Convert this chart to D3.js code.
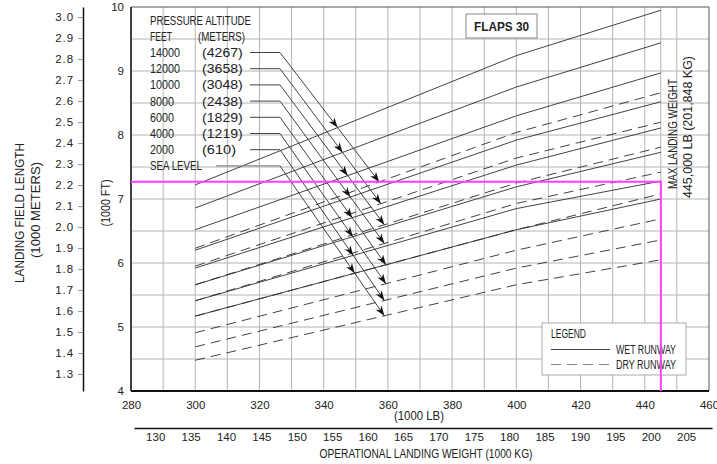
<!DOCTYPE html>
<html>
<head>
<meta charset="utf-8">
<script src="https://cdn.jsdelivr.net/npm/d3@7"></script>
<style>
  html, body { margin: 0; padding: 0; background: #fff; }
  svg { display: block; }
  text { font-family: "Liberation Sans", Arial, sans-serif; fill: #222; }
</style>
</head>
<body>
<svg id="chart" width="717" height="464"></svg>
<script>
// Landing weight (1000 LB) at which each curve is defined
const weights = [300, 400, 445];

// Pressure altitudes, top curve first
const altFeet   = ["14000", "12000", "10000", "8000", "6000", "4000", "2000", "SEA LEVEL"];
const altMeters = ["(4267)", "(3658)", "(3048)", "(2438)", "(1829)", "(1219)", "(610)", ""];

// Landing field length (1000 FT), wet runway, one row per altitude
const wetRunway = [
  [7.22, 9.24, 9.95],
  [6.86, 8.75, 9.44],
  [6.52, 8.30, 8.97],
  [6.20, 7.92, 8.52],
  [5.92, 7.53, 8.11],
  [5.66, 7.19, 7.73],
  [5.41, 6.85, 7.28],
  [5.17, 6.52, 7.00]
];

// Landing field length (1000 FT), dry runway, one row per altitude
const dryRunway = [
  [6.23, 8.04, 8.66],
  [5.95, 7.64, 8.20],
  [5.66, 7.25, 7.81],
  [5.41, 6.93, 7.42],
  [5.17, 6.52, 7.08],
  [4.91, 6.20, 6.69],
  [4.69, 5.92, 6.36],
  [4.48, 5.66, 6.05]
];

// Weight (1000 LB) where each altitude leader meets its dry-runway curve
const leaderTarget = [357.3, 357.8, 358.9, 358.9, 359.4, 359.4, 358.9, 358.9];

// Axis ticks
const lbTicks = d3.range(280, 461, 20);
const kgTicks = d3.range(130, 206, 5);
const ftTicks = d3.range(4, 11, 1);
const meterTicks = d3.range(13, 31, 1).map(v => v / 10);
const gridX = d3.range(290, 451, 10).concat([445]);
const gridY = d3.range(4.5, 10, 0.5);

// Worked example: max landing weight and resulting field length
const maxWeight = 445;
const exampleLength = 7.27;

const FT_PER_M = 3.28084;
const LB_PER_KG = 2.20462;

const svg = d3.select("#chart");
const pL = 131, pR = 709, pT = 7, pB = 391;

const x = d3.scaleLinear().domain([280, 460]).range([pL, pR]);
const y = d3.scaleLinear().domain([4, 10]).range([pB, pT]);
const yM = d3.scaleLinear().domain([4 / FT_PER_M, 10 / FT_PER_M]).range([pB, pT]);
const xKg = d3.scaleLinear().domain([280 / LB_PER_KG, 460 / LB_PER_KG]).range([pL, pR]);

const ink = "#2e2e2e";
const gridCol = "#b4b4b4";
const magenta = "#ff3cff";

// Condensed caption text: fitted to a set width
function caption(g, txt, px, py, width, opts = {}) {
  const t = g.append("text")
    .attr("font-size", opts.size || 12)
    .attr("textLength", width)
    .attr("lengthAdjust", "spacingAndGlyphs")
    .text(txt);
  if (opts.rotate) {
    t.attr("transform", `translate(${px},${py}) rotate(-90)`);
  } else {
    t.attr("x", px).attr("y", py);
  }
  if (opts.anchor) t.attr("text-anchor", opts.anchor);
  if (opts.bold) t.attr("font-weight", "bold");
  return t;
}

// Grid
const grid = svg.append("g");
grid.selectAll("line.gx").data(gridX).join("line")
  .attr("x1", d => x(d)).attr("x2", d => x(d))
  .attr("y1", pT).attr("y2", pB)
  .attr("stroke", gridCol).attr("stroke-width", 1);
grid.selectAll("line.gy").data(gridY).join("line")
  .attr("x1", pL).attr("x2", pR)
  .attr("y1", d => y(d)).attr("y2", d => y(d))
  .attr("stroke", gridCol).attr("stroke-width", 1);

// Frame
svg.append("line").attr("x1", pL).attr("x2", pR).attr("y1", pT).attr("y2", pT)
  .attr("stroke", "#555").attr("stroke-width", 1);
svg.append("line").attr("x1", pR).attr("x2", pR).attr("y1", pT).attr("y2", pB)
  .attr("stroke", "#555").attr("stroke-width", 1);
svg.append("line").attr("x1", pL).attr("x2", pL).attr("y1", pT).attr("y2", pB)
  .attr("stroke", "#111").attr("stroke-width", 1.6);
svg.append("line").attr("x1", pL).attr("x2", pR).attr("y1", pB).attr("y2", pB)
  .attr("stroke", "#111").attr("stroke-width", 2);

// Curves
const line = d3.line().x((d, i) => x(weights[i])).y(d => y(d));
svg.append("g").selectAll("path").data(wetRunway).join("path")
  .attr("d", line).attr("fill", "none").attr("stroke", ink).attr("stroke-width", 0.9);
svg.append("g").selectAll("path").data(dryRunway).join("path")
  .attr("d", line).attr("fill", "none").attr("stroke", ink).attr("stroke-width", 0.9)
  .attr("stroke-dasharray", "10,6");

// Altitude key text
const key = svg.append("g");
caption(key, "PRESSURE ALTITUDE", 150, 24.5, 101);
caption(key, "FEET", 150, 40.5, 22);
caption(key, "(METERS)", 198, 40.5, 47);
const rowY = i => 52.5 + i * 16.2;
altFeet.forEach((lab, i) => {
  const w = lab === "SEA LEVEL" ? 52 : lab.length * 6;
  caption(key, lab, 150, rowY(i) + 4.5, w);
  if (altMeters[i]) caption(key, altMeters[i], 202, rowY(i) + 4.5, altMeters[i].length * 6.8);
});

// Leaders with arrowheads onto the wet and dry curves
function curvePx(row, px) {
  const w = x.invert(px);
  const k = w <= weights[1] ? 0 : 1;
  const t = (w - weights[k]) / (weights[k + 1] - weights[k]);
  return y(row[k] + t * (row[k + 1] - row[k]));
}
function arrowHead(g, tip, from) {
  const ang = Math.atan2(tip[1] - from[1], tip[0] - from[0]) * 180 / Math.PI;
  g.append("path")
    .attr("d", "M0,0 L-10,-3.6 L-7,0 L-10,3.6 Z")
    .attr("transform", `translate(${tip[0]},${tip[1]}) rotate(${ang})`)
    .attr("fill", "#111");
}
const leaders = svg.append("g");
const bendX = 280;
altFeet.forEach((lab, i) => {
  const last = i === altFeet.length - 1;
  const startX = last ? 216 : 250;
  const b = [bendX, rowY(i)];
  const tx = x(leaderTarget[i]);
  const a2 = [tx, curvePx(dryRunway[i], tx)];
  // where the leader crosses the wet-runway curve
  let lo = 0, hi = 1;
  for (let n = 0; n < 40; n++) {
    const m = (lo + hi) / 2;
    const px = b[0] + m * (a2[0] - b[0]);
    const py = b[1] + m * (a2[1] - b[1]);
    if (py < curvePx(wetRunway[i], px)) lo = m; else hi = m;
  }
  const a1 = [b[0] + lo * (a2[0] - b[0]), b[1] + lo * (a2[1] - b[1])];
  leaders.append("path")
    .attr("d", `M${startX},${b[1]} H${b[0]}`)
    .attr("fill", "none").attr("stroke", last ? "#888" : ink)
    .attr("stroke-width", last ? 1.4 : 0.9);
  leaders.append("path")
    .attr("d", `M${b[0]},${b[1]} L${a2[0]},${a2[1]}`)
    .attr("fill", "none").attr("stroke", ink).attr("stroke-width", 0.9);
  arrowHead(leaders, a1, b);
  arrowHead(leaders, a2, b);
});

// Flaps box
svg.append("rect").attr("x", 466).attr("y", 14).attr("width", 71).attr("height", 24)
  .attr("fill", "#fff").attr("stroke", "#888").attr("stroke-width", 1);
caption(svg, "FLAPS 30", 501.5, 30.5, 55, { size: 13, bold: true, anchor: "middle" });

// Max landing weight note
caption(svg, "MAX LANDING WEIGHT", 677, 189, 110, { rotate: true });
caption(svg, "445,000 LB  (201,848 KG)", 692, 198, 142, { rotate: true });

// Legend
const lg = svg.append("g");
lg.append("rect").attr("x", 542).attr("y", 323).attr("width", 144).attr("height", 52)
  .attr("fill", "#fff").attr("stroke", "#aaa").attr("stroke-width", 1);
caption(lg, "LEGEND", 551, 337.5, 35);
lg.append("line").attr("x1", 551).attr("x2", 610).attr("y1", 349.5).attr("y2", 349.5)
  .attr("stroke", ink).attr("stroke-width", 0.9);
lg.append("line").attr("x1", 551).attr("x2", 610).attr("y1", 364.5).attr("y2", 364.5)
  .attr("stroke", "#777").attr("stroke-width", 0.9).attr("stroke-dasharray", "10,6");
caption(lg, "WET RUNWAY", 616, 354, 60);
caption(lg, "DRY RUNWAY", 616, 369, 60);

// Example path
svg.append("path")
  .attr("d", `M${pL},${y(exampleLength)} H${x(maxWeight)} V${pB}`)
  .attr("fill", "none").attr("stroke", magenta).attr("stroke-width", 2);

// Feet axis
const ftAxis = svg.append("g").attr("transform", `translate(${pL - 1},0)`)
  .call(d3.axisLeft(y).tickValues(ftTicks).tickSize(0).tickPadding(6).tickFormat(d3.format("d")));
ftAxis.select(".domain").remove();
ftAxis.selectAll("text").attr("font-size", 11.5).attr("font-family", null).attr("fill", "#222");

// Meters axis
const mAxis = svg.append("g").attr("transform", "translate(83,0)")
  .call(d3.axisLeft(yM).tickValues(meterTicks).tickSize(5).tickSizeOuter(0).tickPadding(4).tickFormat(d3.format(".1f")));
mAxis.select(".domain").attr("stroke", "#111").attr("stroke-width", 1.5);
mAxis.selectAll(".tick line").attr("stroke", "#999");
mAxis.selectAll("text").attr("font-size", 11.5).attr("font-family", null).attr("letter-spacing", 0.9).attr("fill", "#222");

// Pound axis
const lbAxis = svg.append("g").attr("transform", `translate(0,${pB})`)
  .call(d3.axisBottom(x).tickValues(lbTicks).tickSize(0).tickPadding(10).tickFormat(d3.format("d")));
lbAxis.select(".domain").remove();
lbAxis.selectAll("text").attr("font-size", 11.5).attr("font-family", null).attr("fill", "#222");
caption(svg, "(1000 LB)", 419, 419.5, 50, { anchor: "middle" });

// Kilogram axis
const kgAxis = svg.append("g").attr("transform", "translate(3,428)")
  .call(d3.axisBottom(xKg).tickValues(kgTicks).tickSize(0).tickPadding(5).tickFormat(d3.format("d")));
kgAxis.select(".domain").attr("stroke", "#111").attr("stroke-width", 1.5);
kgAxis.selectAll("text").attr("font-size", 11.5).attr("font-family", null).attr("fill", "#222");
caption(svg, "OPERATIONAL LANDING WEIGHT (1000 KG)", 426, 457.5, 213, { anchor: "middle" });

// Axis titles
caption(svg, "LANDING FIELD LENGTH", 24, 213, 140, { rotate: true, anchor: "middle" });
caption(svg, "(1000 METERS)", 40, 210, 96, { rotate: true, anchor: "middle" });
caption(svg, "(1000 FT)", 110, 203, 47, { rotate: true, anchor: "middle" });
</script>
</body>
</html>
